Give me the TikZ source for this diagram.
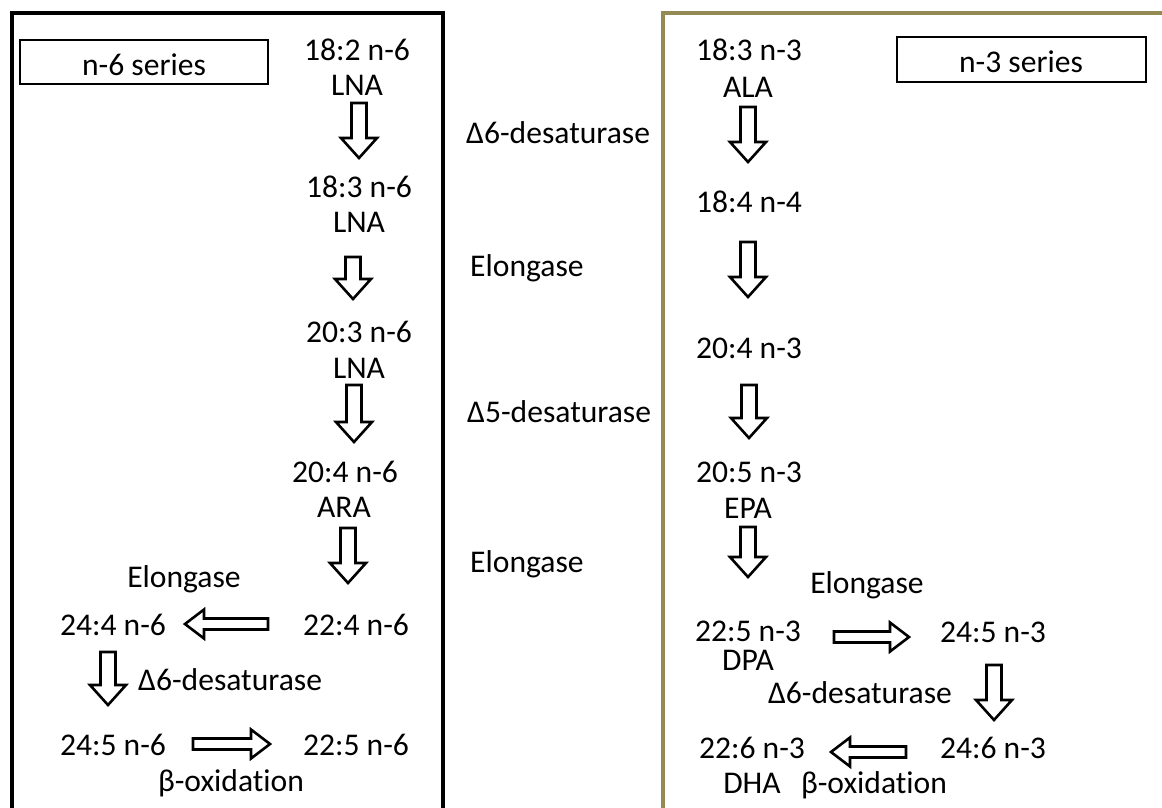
\documentclass[tikz,border=0pt]{standalone}
\usepackage{fontspec}
\setmainfont[Ligatures=NoCommon]{Carlito}
\usetikzlibrary{calc}
\definecolor{olivebox}{RGB}{148,138,84}
\tikzset{
  lbl/.style={anchor=base, inner sep=0pt, font=\fontsize{31.6}{36}\selectfont},
  serbox/.style={draw=black, line width=1.6pt, minimum width=248pt, minimum height=44pt, inner sep=0pt},
  barrow/.style={draw=black, line width=2.6pt, fill=white, line join=miter},
  outerbox/.style={line width=4pt},
}
% block arrow: start, end, shaft half-width, head half-width, head length
\newcommand\blockarrow[5]{%
  \coordinate (bah) at ($(#2)!#5pt!(#1)$);
  \draw[barrow] ($(#1)!#3pt!90:(#2)$) -- ($(bah)!#3pt!90:(#2)$) -- ($(bah)!#4pt!90:(#2)$) -- (#2)
    -- ($(bah)!#4pt!-90:(#2)$) -- ($(bah)!#3pt!-90:(#2)$) -- ($(#1)!#3pt!-90:(#2)$) -- cycle;}
\newcommand\vdown[2]{\blockarrow{#1}{#2}{7.5}{18}{20}}
\newcommand\hside[2]{\blockarrow{#1}{#2}{5.5}{14.5}{19}}
\begin{document}
\begin{tikzpicture}[x=1pt,y=-1pt]
\useasboundingbox (0,0) rectangle (1162,807);
\clip (0,0) rectangle (1162,807);
\fill[white] (0,0) rectangle (1162,807);
% outer panels
\draw[outerbox, black] (12,13) rectangle (443,830);
\draw[outerbox, olivebox] (663,13) rectangle (1180,830);
% series boxes
\node[serbox] (n6box) at (144,62) {};
\node[lbl] (n6t) at (144,75) {n-6 series};
\node[serbox, minimum width=249pt, minimum height=45pt] (n3box) at (1021.5,59.5) {};
\node[lbl] (n3t) at (1021,72) {n-3 series};

% ---- n-6 column ----
\node[lbl] (a1) at (357,60) {18:2 n-6};
\node[lbl] (a1b) at (357,95) {LNA};
\node[lbl] (a2) at (359,197) {18:3 n-6};
\node[lbl] (a2b) at (359,232) {LNA};
\node[lbl] (a3) at (359,342) {20:3 n-6};
\node[lbl] (a3b) at (359,378) {LNA};
\node[lbl] (a4) at (345,482) {20:4 n-6};
\node[lbl] (a4b) at (344,517) {ARA};
\node[lbl] (a5) at (356,635) {22:4 n-6};
\node[lbl] (a6) at (113,635) {24:4 n-6};
\node[lbl] (a7) at (113,755) {24:5 n-6};
\node[lbl] (a8) at (356,755) {22:5 n-6};
\node[lbl] (e6a) at (184,587) {Elongase};
\node[lbl, anchor=base west] (d6a) at (138,690) {Δ6-desaturase};
\node[lbl] (box6) at (231,791) {β-oxidation};

\coordinate (s1) at (359,103); \coordinate (t1) at (359,158);
\coordinate (s2) at (353,257); \coordinate (t2) at (353,299);
\coordinate (s3) at (354,385); \coordinate (t3) at (354,442);
\coordinate (s4) at (348,528); \coordinate (t4) at (348,583);
\coordinate (s5) at (268,624); \coordinate (t5) at (185,624);
\coordinate (s6) at (108,652); \coordinate (t6) at (108,705);
\coordinate (s7) at (193,744); \coordinate (t7) at (270,744);
\vdown{s1}{t1}
\vdown{s2}{t2}
\vdown{s3}{t3}
\vdown{s4}{t4}
\hside{s5}{t5}
\vdown{s6}{t6}
\hside{s7}{t7}

% ---- middle labels ----
\node[lbl, anchor=base west] (m1) at (466,143) {Δ6-desaturase};
\node[lbl, anchor=base west] (m2) at (470,276) {Elongase};
\node[lbl, anchor=base west] (m3) at (467,422) {Δ5-desaturase};
\node[lbl, anchor=base west] (m4) at (470,572) {Elongase};

% ---- n-3 column ----
\node[lbl] (b1) at (749,60) {18:3 n-3};
\node[lbl] (b1b) at (748,97) {ALA};
\node[lbl] (b2) at (749,212) {18:4 n-4};
\node[lbl] (b3) at (749,358) {20:4 n-3};
\node[lbl] (b4) at (749,482) {20:5 n-3};
\node[lbl] (b4b) at (748,518) {EPA};
\node[lbl] (e3a) at (867,593) {Elongase};
\node[lbl] (b5) at (748,641) {22:5 n-3};
\node[lbl] (b5b) at (748,670) {DPA};
\node[lbl] (b6) at (993,642) {24:5 n-3};
\node[lbl] (d3a) at (860,703) {Δ6-desaturase};
\node[lbl] (b7) at (993,758) {24:6 n-3};
\node[lbl] (b8) at (752,758) {22:6 n-3};
\node[lbl] (b8b) at (752,793) {DHA};
\node[lbl] (box3) at (874,793) {β-oxidation};

\coordinate (r1) at (748,107); \coordinate (u1) at (748,162);
\coordinate (r2) at (748,242); \coordinate (u2) at (748,297);
\coordinate (r3) at (749,385); \coordinate (u3) at (749,438);
\coordinate (r4) at (748,527); \coordinate (u4) at (748,577);
\coordinate (r5) at (834,637); \coordinate (u5) at (909,637);
\coordinate (r6) at (994,665); \coordinate (u6) at (994,720);
\coordinate (r7) at (906,752); \coordinate (u7) at (831,752);
\vdown{r1}{u1}
\vdown{r2}{u2}
\vdown{r3}{u3}
\vdown{r4}{u4}
\hside{r5}{u5}
\vdown{r6}{u6}
\hside{r7}{u7}
\end{tikzpicture}
\end{document}
